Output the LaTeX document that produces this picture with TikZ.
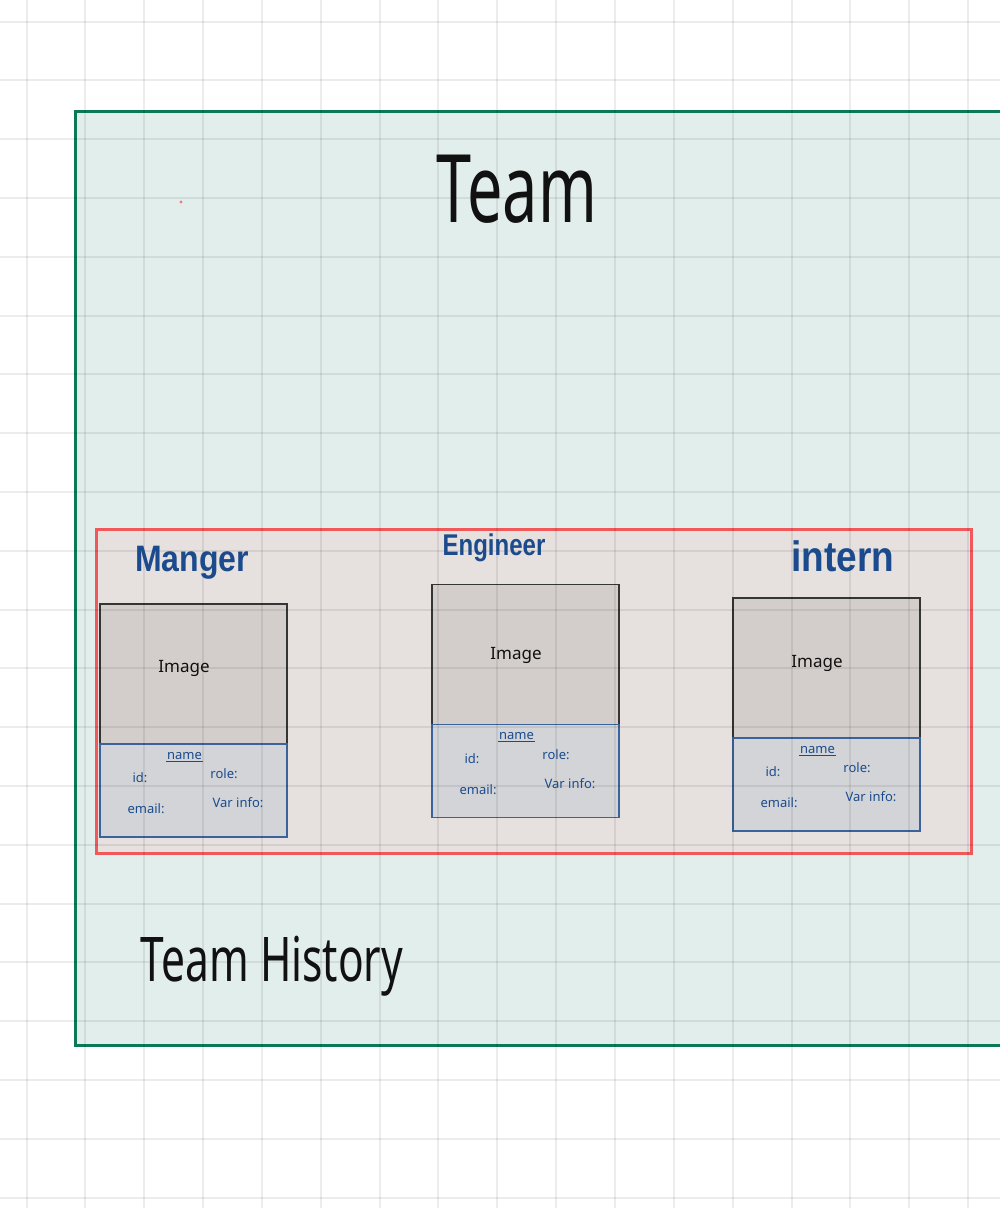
\documentclass[tikz,border=0pt]{standalone}
\usepackage{fontspec}
\usepackage{graphicx}
\setmainfont{Noto Sans}
\newfontfamily\labelfont{Liberation Sans}
\definecolor{teamgreen}{HTML}{0B7857}
\definecolor{teamfill}{HTML}{E2EEEC}
\definecolor{rowred}{HTML}{F0585A}
\definecolor{rowfill}{HTML}{E6E0DF}
\definecolor{imgfill}{HTML}{D3CECB}
\definecolor{infofill}{HTML}{D2D4D8}
\definecolor{infoline}{HTML}{3B639B}
\definecolor{inkblue}{HTML}{1B4B8C}
\definecolor{ink}{HTML}{111111}
\pgfdeclarelayer{gridlayer}
\pgfdeclarelayer{textlayer}
\pgfsetlayers{main,gridlayer,textlayer}

% one member card: image box on top, info box below
% #1 prefix for node names, #2/#3 top-left corner, #4 height of the image caption
\newcommand\membercard[4]{%
  \node[imgbox, anchor=north west] (#1img) at (#2,#3) {};
  \node[infobox, anchor=north west] (#1info) at (#1img.south west) {};
  \begin{pgfonlayer}{textlayer}
  \begin{scope}[shift={(#2,#3)}]
    \node[imgtext] (#1imglabel) at (84,#4) {Image};
    \node[smalltext] (#1name) at (84.5,152) {name};
    \draw[inkblue, line width=1.1pt] (#1name.south west) ++(0,1) -- ([yshift=-1pt]#1name.south east);
    \node[smalltext] (#1id) at (40,174) {id:};
    \node[smalltext] (#1role) at (124,170) {role:};
    \node[smalltext] (#1email) at (46,205) {email:};
    \node[smalltext] (#1var) at (138,199) {Var info:};
  \end{scope}
  \end{pgfonlayer}
}

\begin{document}
\begin{tikzpicture}[x=1pt,y=-1pt,
  teamframe/.style={draw=teamgreen, line width=3pt, fill=teamfill},
  rowframe/.style={draw=rowred, line width=3pt, fill=rowfill},
  imgbox/.style={draw=ink!85, line width=1.2pt, fill=imgfill,
    minimum width=187pt, minimum height=140pt, inner sep=0pt, outer sep=0pt},
  infobox/.style={draw=infoline, line width=1.2pt, fill=infofill,
    minimum width=187pt, minimum height=93pt, inner sep=0pt, outer sep=0pt},
  imgtext/.style={font=\fontsize{17}{17}\selectfont, text=ink, inner sep=0pt},
  smalltext/.style={font=\fontsize{13}{13}\selectfont, text=inkblue, inner sep=0.5pt},
  rolelabel/.style={text=inkblue, inner sep=0pt},
  gridline/.style={black, opacity=0.075, line width=2pt}
]
\useasboundingbox (0,0) rectangle (1000,1208);
\clip (0,0) rectangle (1000,1208);
\fill[white] (0,0) rectangle (1000,1208);

% outer team area and the row of member cards
\draw[teamframe] (75,111) rectangle (1010,1045);
\draw[rowframe] (96.5,529) rectangle (971.5,853);
\fill[rowred!80] (181,202) circle (1.6pt);

\membercard{mgr}{100}{604}{64}
\membercard{eng}{432}{584.5}{71}
\membercard{int}{733}{598}{65}

% square grid of the sheet
\begin{pgfonlayer}{gridlayer}
  \foreach \k in {0,...,16} \draw[gridline] ({round(26.5+58.85*\k)},0) -- ({round(26.5+58.85*\k)},1208);
  \foreach \k in {0,...,20} \draw[gridline] (0,{round(21.5+58.8*\k)}) -- (1000,{round(21.5+58.8*\k)});
\end{pgfonlayer}

% headings
\begin{pgfonlayer}{textlayer}
  \node[text=ink, inner sep=0pt, font=\fontsize{63}{63}\selectfont] (title) at (517,189) {\scalebox{1}[1.5]{Team}};
  \node[text=ink, inner sep=0pt, font=\fontsize{42.5}{42.5}\selectfont] (history) at (272,966) {\scalebox{1}[1.45]{Team History}};
  \node[rolelabel, font=\fontsize{32}{32}\labelfont\bfseries\selectfont] (mgrlabel) at (192,563) {\scalebox{1}[1.15]{Manger}};
  \node[rolelabel, font=\fontsize{24}{24}\labelfont\bfseries\selectfont] (englabel) at (494,548) {\scalebox{1}[1.25]{Engineer}};
  \node[rolelabel, font=\fontsize{37}{37}\labelfont\bfseries\selectfont] (intlabel) at (843,556) {\scalebox{1}[1.15]{intern}};
\end{pgfonlayer}
\end{tikzpicture}
\end{document}
